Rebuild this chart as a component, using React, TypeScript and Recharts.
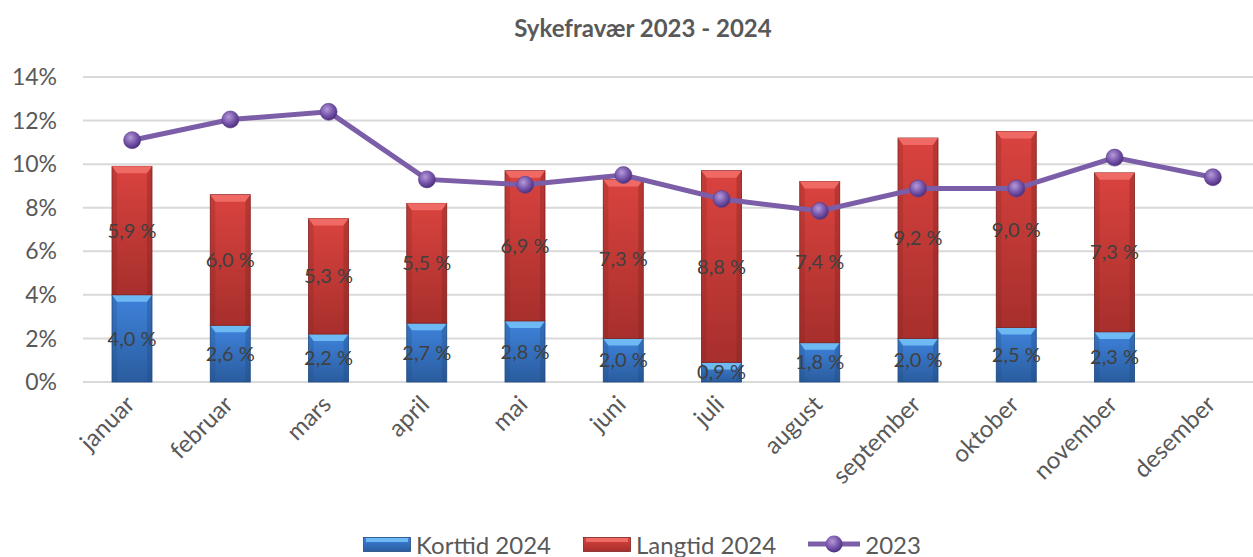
import React from 'react';
import {
  ComposedChart,
  Bar,
  Line,
  XAxis,
  YAxis,
  CartesianGrid,
  Legend,
  LabelList,
} from 'recharts';

const months = [
  'januar', 'februar', 'mars', 'april', 'mai', 'juni',
  'juli', 'august', 'september', 'oktober', 'november', 'desember',
];
const korttid2024 = [4.0, 2.6, 2.2, 2.7, 2.8, 2.0, 0.9, 1.8, 2.0, 2.5, 2.3, null];
const langtid2024 = [5.9, 6.0, 5.3, 5.5, 6.9, 7.3, 8.8, 7.4, 9.2, 9.0, 7.3, null];
const total2023 = [11.1, 12.05, 12.4, 9.3, 9.05, 9.5, 8.4, 7.85, 8.88, 8.88, 10.3, 9.4];
const yTicks = [0, 2, 4, 6, 8, 10, 12, 14];

const data = months.map((m, i) => ({
  month: m,
  korttid: korttid2024[i],
  langtid: langtid2024[i],
  y2023: total2023[i],
}));

const FONT = 'Lato, "Open Sans", sans-serif';
const TEXT = '#595959';

const palettes: Record<string, { top: string; bottom: string; bevel: string; edge: string }> = {
  blue: { top: '#3f83dc', bottom: '#2a5c9e', bevel: '#6cb9f3', edge: '#1f4a80' },
  red: { top: '#da433f', bottom: '#a72f2c', bevel: '#f06a65', edge: '#7f2220' },
};

const bevelBar = (key: string) => (props: any) => {
  const { x, y, width, height } = props;
  if (!height || height <= 0) return <g />;
  const p = palettes[key];
  const b = Math.min(7, height / 2);
  const s = 5;
  return (
    <g>
      <rect x={x} y={y} width={width} height={height} fill={`url(#grad-${key})`} stroke={p.edge} strokeWidth={0.8} />
      <polygon
        points={`${x},${y} ${x + width},${y} ${x + width - s},${y + b} ${x + s},${y + b}`}
        fill={p.bevel}
      />
      <polygon
        points={`${x},${y} ${x + s},${y + b} ${x + s},${y + height} ${x},${y + height}`}
        fill={p.edge}
        opacity={0.25}
      />
      <polygon
        points={`${x + width},${y} ${x + width - s},${y + b} ${x + width - s},${y + height} ${x + width},${y + height}`}
        fill={p.edge}
        opacity={0.35}
      />
    </g>
  );
};

const PurpleDot = (props: any) => {
  const { cx, cy } = props;
  if (cx == null || cy == null) return <g />;
  return <circle cx={cx} cy={cy} r={8.5} fill="url(#dotGrad)" stroke="#5b3d8a" strokeWidth={0.6} />;
};

const MonthTick = (props: any) => {
  const { x, y, payload } = props;
  return (
    <g transform={`translate(${x - 2},${y + 10})`}>
      <text
        textAnchor="end"
        transform="rotate(-45)"
        dy="0.35em"
        fill={TEXT}
        fontSize={24}
        fontFamily={FONT}
      >
        {payload.value}
      </text>
    </g>
  );
};

const fmtLabel = (v: any) => (v == null ? '' : `${Number(v).toFixed(1).replace('.', ',')} %`);

const LegendContent = () => {
  const item = (icon: React.ReactNode, label: string, gap: number) => (
    <div style={{ display: 'flex', alignItems: 'center', marginRight: gap }}>
      {icon}
      <span style={{ marginLeft: 5, fontSize: 24, color: TEXT, fontFamily: FONT }}>{label}</span>
    </div>
  );
  const boxIcon = (key: string) => {
    const p = palettes[key];
    return (
      <svg width={48} height={15}>
        <rect x={0.5} y={0.5} width={47} height={14} fill={`url(#lgrad-${key})`} stroke={p.edge} strokeWidth={0.8} />
        <rect x={3} y={1} width={42} height={4} fill={p.bevel} />
      </svg>
    );
  };
  return (
    <div style={{ display: 'flex', justifyContent: 'center', alignItems: 'center', height: 30, paddingLeft: 22 }}>
      <svg width={0} height={0} style={{ position: 'absolute' }}>
        <defs>
          {Object.keys(palettes).map((k) => (
            <linearGradient key={k} id={`lgrad-${k}`} x1="0" y1="0" x2="0" y2="1">
              <stop offset="0%" stopColor={palettes[k].top} />
              <stop offset="100%" stopColor={palettes[k].bottom} />
            </linearGradient>
          ))}
        </defs>
      </svg>
      {item(boxIcon('blue'), 'Korttid 2024', 32)}
      {item(boxIcon('red'), 'Langtid 2024', 32)}
      {item(
        <svg width={52} height={20}>
          <line x1={0} y1={10} x2={52} y2={10} stroke="#7b5ea7" strokeWidth={5} />
          <circle cx={26} cy={10} r={8.5} fill="url(#dotGrad)" />
        </svg>,
        '2023',
        0,
      )}
    </div>
  );
};

export default function App() {
  return (
    <div style={{ position: 'absolute', left: 0, top: 0, width: 1253, height: 557, overflow: 'hidden', background: '#fff' }}>
      <div
        style={{
          position: 'absolute',
          top: 13,
          left: 0,
          width: 1286,
          textAlign: 'center',
          fontFamily: FONT,
          fontWeight: 700,
          fontSize: 24,
          color: TEXT,
        }}
      >
        Sykefravær 2023 - 2024
      </div>
      <ComposedChart
        width={1275}
        height={557}
        data={data}
        margin={{ top: 77, right: 13, left: 0, bottom: 0 }}
        barSize={40}
      >
        <defs>
          {Object.keys(palettes).map((k) => (
            <linearGradient key={k} id={`grad-${k}`} x1="0" y1="0" x2="0" y2="1">
              <stop offset="0%" stopColor={palettes[k].top} />
              <stop offset="100%" stopColor={palettes[k].bottom} />
            </linearGradient>
          ))}
          <radialGradient id="dotGrad" cx="40%" cy="35%" r="65%">
            <stop offset="0%" stopColor="#b49ad8" />
            <stop offset="55%" stopColor="#7b5aae" />
            <stop offset="100%" stopColor="#4d2f7e" />
          </radialGradient>
        </defs>
        <CartesianGrid vertical={false} stroke="#d9d9d9" strokeWidth={2} />
        <XAxis
          dataKey="month"
          axisLine={false}
          tickLine={false}
          interval={0}
          height={145}
          tick={<MonthTick />}
        />
        <YAxis
          domain={[0, 14]}
          ticks={yTicks}
          width={83}
          axisLine={false}
          tickLine={false}
          tickMargin={20}
          tickFormatter={(v: number) => `${v}%`}
          tick={{ fill: TEXT, fontSize: 23, fontFamily: FONT }}
        />
        <Legend verticalAlign="bottom" content={<LegendContent />} wrapperStyle={{ height: 30, bottom: -2 }} />
        <Bar dataKey="korttid" name="Korttid 2024" stackId="a" shape={bevelBar('blue')} isAnimationActive={false}>
          <LabelList
            dataKey="korttid"
            position="center"
            formatter={fmtLabel}
            fill="#404040"
            fontSize={20}
            fontFamily={FONT}
          />
        </Bar>
        <Bar dataKey="langtid" name="Langtid 2024" stackId="a" shape={bevelBar('red')} isAnimationActive={false}>
          <LabelList
            dataKey="langtid"
            position="center"
            formatter={fmtLabel}
            fill="#404040"
            fontSize={20}
            fontFamily={FONT}
          />
        </Bar>
        <Line
          dataKey="y2023"
          name="2023"
          type="linear"
          stroke="#7b5ea7"
          strokeWidth={5}
          dot={<PurpleDot />}
          activeDot={false}
          isAnimationActive={false}
        />
      </ComposedChart>
    </div>
  );
}
